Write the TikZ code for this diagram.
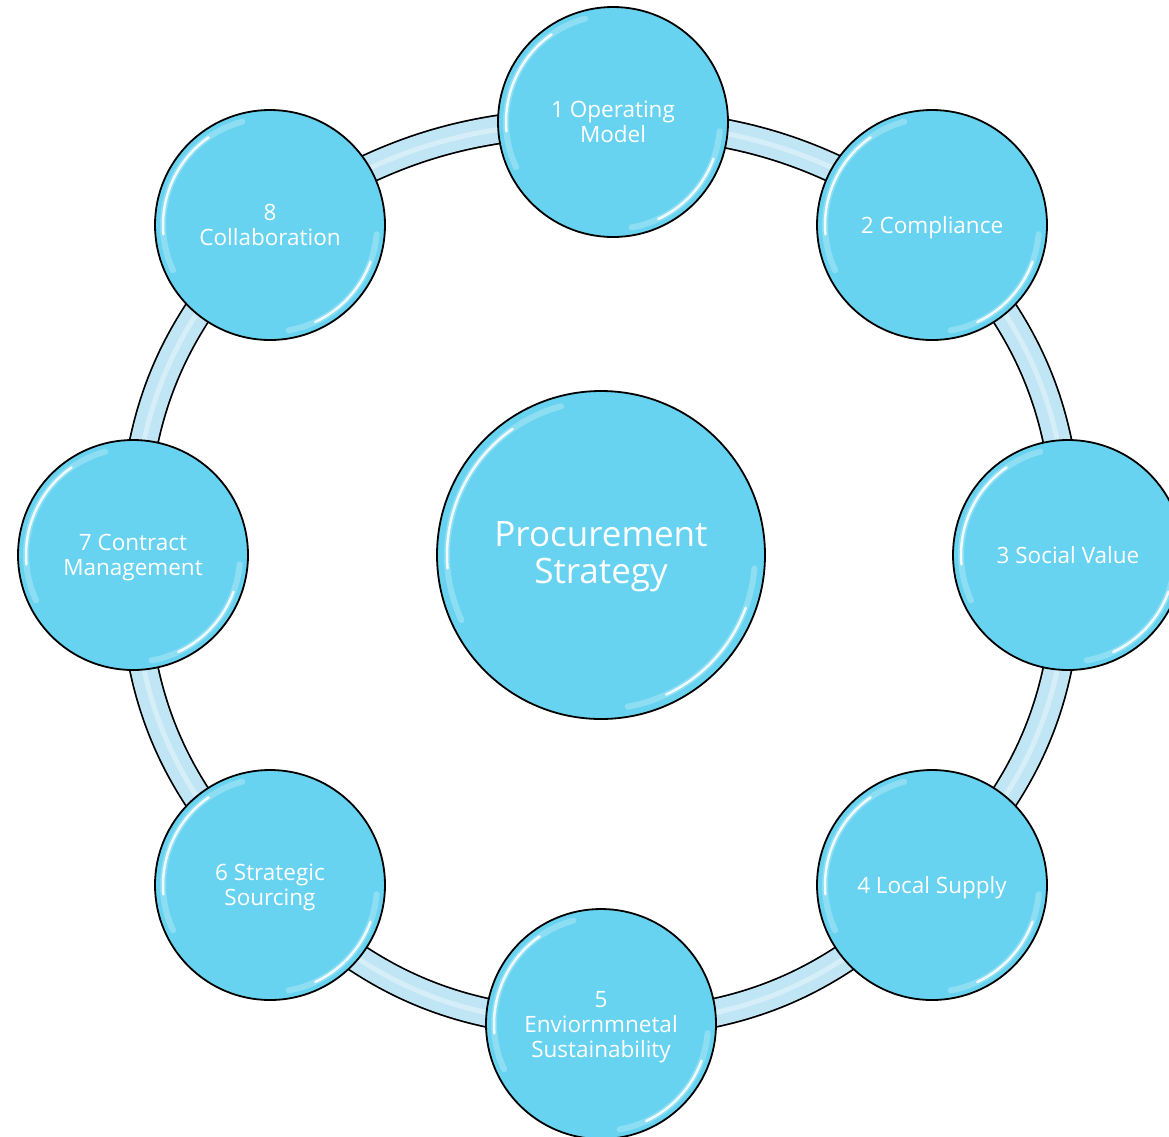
\documentclass[tikz,border=0pt]{standalone}
\usepackage{fontspec}
\newfontfamily\lblfont{Open Sans}
\usetikzlibrary{backgrounds}
\definecolor{cfill}{RGB}{104,211,240}
\definecolor{bandfill}{RGB}{192,229,245}
\newcommand{\lowtext}[1]{\raisebox{-3pt}[\height][\depth]{\begin{tabular}{@{}c@{}}#1\end{tabular}}}
\begin{document}
\begin{tikzpicture}[x=1pt,y=1pt,
  outer/.style={circle, draw=black, line width=1.8pt, fill=cfill, minimum size=230pt, inner sep=0pt, text=white, align=center, font=\lblfont\fontsize{22.5}{25}\selectfont},
  hub/.style={outer, minimum size=328pt, font=\lblfont\fontsize{35}{37}\selectfont},
  bandline/.style={line width=30pt, draw=black},
  bandbody/.style={line width=26.5pt, draw=bandfill},
  bandshine/.style={line width=5pt, draw=white, opacity=0.35},
  shine/.style={draw=white, line cap=round}
]
\useasboundingbox (0,0) rectangle (1169,-1136);
\node[hub] (c) at (601,-555) {\lowtext{Procurement\\Strategy}};
\node[outer] (n1) at (613,-122) {\lowtext{1 Operating\\Model}};
\node[outer] (n2) at (932,-225) {\lowtext{2 Compliance}};
\node[outer] (n3) at (1068,-555) {\lowtext{3 Social Value}};
\node[outer] (n4) at (932,-885) {\lowtext{4 Local Supply}};
\node[outer] (n5) at (601,-1024) {\lowtext{5\\Enviornmnetal\\Sustainability}};
\node[outer] (n6) at (270,-885) {\lowtext{6 Strategic\\Sourcing}};
\node[outer] (n7) at (133,-555) {\lowtext{7 Contract\\Management}};
\node[outer] (n8) at (270,-225) {\lowtext{8\\Collaboration}};
\begin{scope}[on background layer]
\foreach \a/\b/\t in {n1/n2/16,n2/n3/22.5,n3/n4/22.5,n4/n5/22.5,n5/n6/22.5,n6/n7/22.5,n7/n8/22.5,n8/n1/17}{
  \draw[bandline] (\a.center) to[bend left=\t] (\b.center);
  \draw[bandbody] (\a.center) to[bend left=\t] (\b.center);
  \draw[bandshine] (\a.center) to[bend left=\t] (\b.center);
}
\end{scope}
\foreach \n/\r in {n1/107,n2/107,n3/107,n4/107,n5/107,n6/107,n7/107,n8/107,c/154}{
  \draw[shine, line width=6pt, opacity=0.25] ([shift={(105:\r)}]\n.center) arc[start angle=105,end angle=205,radius=\r];
  \draw[shine, line width=2.5pt, opacity=0.85] ([shift={(125:\r)}]\n.center) arc[start angle=125,end angle=185,radius=\r];
  \draw[shine, line width=6pt, opacity=0.25] ([shift={(-5:\r)}]\n.center) arc[start angle=-5,end angle=-80,radius=\r];
  \draw[shine, line width=2.5pt, opacity=0.85] ([shift={(-20:\r)}]\n.center) arc[start angle=-20,end angle=-65,radius=\r];
}
\end{tikzpicture}
\end{document}
